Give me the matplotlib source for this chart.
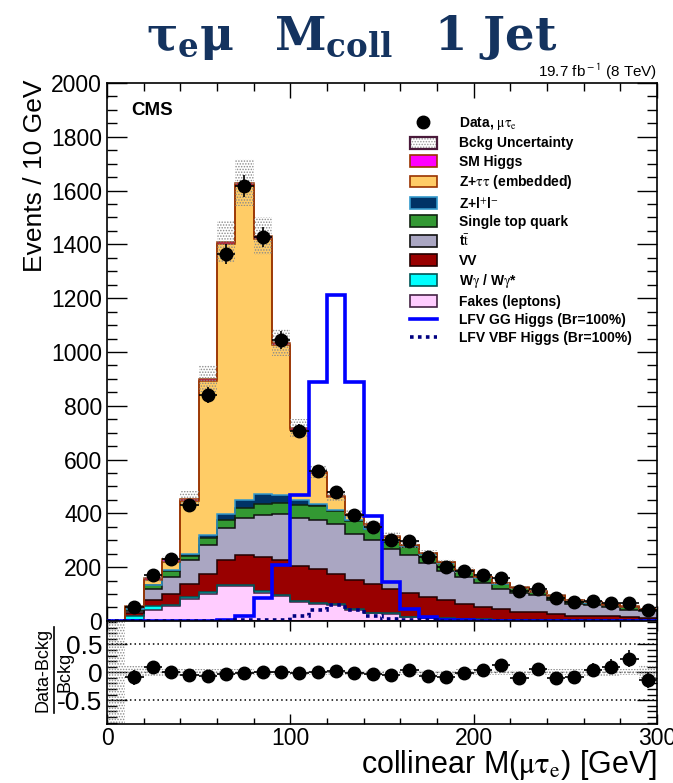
#!/usr/bin/env python
# -*- coding: utf-8 -*-
"""
collinear mass, mu tau_e channel, 1 jet category
stacked backgrounds + LFV higgs signal + data, with (data-bkg)/bkg panel below
"""
import numpy as np
import matplotlib
matplotlib.use('Agg')
import matplotlib.pyplot as plt
from matplotlib.patches import Patch
from matplotlib.lines import Line2D
from matplotlib.ticker import MultipleLocator, FuncFormatter

plt.rcParams['font.family'] = ['Liberation Sans', 'DejaVu Sans']
plt.rcParams['axes.unicode_minus'] = False
plt.rcParams['mathtext.fontset'] = 'stix'
# serif bold set, only used by the title
plt.rcParams['mathtext.rm'] = 'DejaVu Serif:bold'
plt.rcParams['mathtext.it'] = 'DejaVu Serif:bold'
plt.rcParams['mathtext.bf'] = 'DejaVu Serif:bold'
plt.rcParams['hatch.linewidth'] = 0.7

edges = np.arange(0, 310, 10)   # 10 GeV bins, 0-300
centers = edges[:-1] + 5

# background yields per bin
fakes = [0, 4, 39, 55, 83, 101, 128, 128, 104, 92, 70, 64, 61, 42, 29,
         27, 15, 10, 8, 6, 5, 4, 4, 3, 3, 2, 2, 2, 1.5, 1.5]
wgamma = [0.3, 14, 15, 5, 6, 6, 7, 7, 8, 4, 3, 2, 1, 1, 1,
          1, 1, 1, 1, 1, 1, 1, 1, 1, 0.5, 0.5, 0.5, 0.5, 0.5, 0.5]
vv = [0.2, 10, 22, 41, 49, 69, 90, 109, 126, 129, 131, 128, 114, 108, 108,
      92, 88, 78, 67, 57, 45, 40, 30, 29, 23.5, 17.5, 17.5, 14.5, 12, 10]
ttbar = [0, 10, 41, 62, 87, 105, 122, 138, 155, 171, 180, 180, 186, 173, 162,
         149, 140, 126, 109, 99, 90, 75, 69, 62, 52, 44, 38, 34, 28, 24]
single_top = [0, 6, 15, 21, 16, 27, 30, 38, 43, 42, 46, 52, 47, 46, 40,
              26, 31, 32, 30, 22, 19, 18, 18, 12, 13, 11, 9, 8, 9, 6]
zll = [0, 2, 3, 4, 9, 13, 22, 31, 35, 29, 18, 10, 5, 4, 2,
       2, 2, 1, 1, 1, 1, 1, 1, 1, 1, 1, 1, 1, 1, 1]
ztt = [0.2, 6, 16, 31, 195, 572, 1001, 1169, 949, 559, 262, 113, 46, 18, 13,
       15, 4, 3, 2, 2, 1.5, 1.5, 1, 1, 1, 1, 1, 1, 1, 1]
sm_higgs = [0, 3, 7, 10, 10, 7, 10, 10, 10, 9, 8, 6, 5, 5, 5,
            5, 2, 2, 2, 2, 1, 1, 1, 1, 1, 1, 1, 1, 1, 1]
bkg_err = [5, 6, 12, 14, 28, 50, 78, 88, 70, 50, 33, 25, 21, 18, 16,
           15, 14, 12, 11, 10, 8, 7, 6, 6, 5, 4, 4, 4, 3, 6]

# signal (Br=100%)
lfv_gg = [0, 0, 0, 0, 0, 1, 3, 17, 85, 207, 469, 887, 1212, 887, 389,
          143, 44, 14, 4, 2, 1, 1, 0.5, 0.5, 0.5, 0.5, 0.5, 0.5, 0.5, 0.5]
lfv_vbf = [0, 0, 0, 0, 0, 0.5, 1, 2, 3, 5, 18, 39, 58, 42, 18,
           6, 3, 2, 1, 1, 0.5, 0.5, 0.5, 0.5, 0.5, 0.5, 0.5, 0.5, 0.5, 0.5]

data = [np.nan, 50, 172, 230, 432, 840, 1363, 1617, 1427, 1044, 707, 556, 478, 395, 350,
        302, 297, 236, 202, 186, 170, 160, 112, 117, 86, 71, 73, 68, 67, 39]

# (values, fill, line) from bottom to top of the stack
layers = [
    (fakes, '#ffccff', '#442244'),
    (wgamma, '#00ffff', '#005555'),
    (vv, '#990000', '#220000'),
    (ttbar, '#aaa6c2', '#111111'),
    (single_top, '#339933', '#112211'),
    (zll, '#003366', '#3399cc'),
    (ztt, '#ffcc66', '#993300'),
    (sm_higgs, '#ff00ff', '#993300'),
]

fig = plt.figure(figsize=(6.73, 7.83), dpi=100)
ax = fig.add_axes([0.159, 0.207, 0.817, 0.687])
rax = fig.add_axes([0.159, 0.075, 0.817, 0.132])

bottom = np.zeros(len(centers))
for vals, fc, lc in layers:
    top = bottom + np.array(vals)
    ax.stairs(top, edges, baseline=bottom, fill=True, color=fc, zorder=2)
    ax.stairs(top, edges, baseline=None, color=lc, lw=1.1, zorder=2.1)
    bottom = top
total = bottom
err = np.array(bkg_err)

# background uncertainty band
ax.bar(edges[:-1], 2 * err, width=10, bottom=total - err, align='edge',
       facecolor='none', edgecolor='#8a8a8a', hatch='......', linewidth=0, zorder=3)

ax.stairs(lfv_gg, edges, baseline=None, color='#0000ff', lw=2.6, zorder=4)
ax.stairs(lfv_vbf, edges, baseline=None, color='#000080', lw=2.6,
          linestyle=(0, (1, 1.2)), zorder=4)

data = np.array(data)
ax.errorbar(centers, data, yerr=np.sqrt(data), xerr=5, fmt='o', color='black',
            ms=9, lw=1.2, capsize=0, zorder=5)

ax.set_xlim(0, 300)
ax.set_ylim(0, 2000)
ax.yaxis.set_major_locator(MultipleLocator(200))
ax.yaxis.set_minor_locator(MultipleLocator(50))
ax.xaxis.set_major_locator(MultipleLocator(100))
ax.xaxis.set_minor_locator(MultipleLocator(20))
ax.tick_params(which='both', direction='in', top=True, right=True,
               labelbottom=False, labelsize=16.5, width=1)
ax.tick_params(axis='y', which='major', length=14.5)
ax.tick_params(axis='y', which='minor', length=7.5)
ax.tick_params(axis='x', which='major', length=11)
ax.tick_params(axis='x', which='minor', length=6)
for s in ax.spines.values():
    s.set_linewidth(1.2)

# ratio panel
ratio = (data - total) / total
ratio_err = np.sqrt(data) / total
rel = err / total
rax.bar(edges[:-1], 2 * rel, width=10, bottom=-rel, align='edge',
        facecolor='none', edgecolor='#8a8a8a', hatch='......', linewidth=0, zorder=2)
for yv in (0.5, -0.5):
    rax.axhline(yv, color='black', lw=1.1, ls=(0, (1, 2)), zorder=1)
rax.axhline(0, color='#555555', lw=1.0, ls=(0, (1, 2)), zorder=1)
rax.errorbar(centers, ratio, yerr=ratio_err, xerr=5, fmt='o', color='black',
             ms=9, lw=1.2, capsize=0, zorder=5)
rax.set_xlim(0, 300)
rax.set_ylim(-0.93, 0.92)
rax.yaxis.set_major_locator(MultipleLocator(0.5))
rax.yaxis.set_minor_locator(MultipleLocator(0.1))
rax.yaxis.set_major_formatter(FuncFormatter(lambda v, p: '%g' % v))
rax.xaxis.set_major_locator(MultipleLocator(100))
rax.xaxis.set_minor_locator(MultipleLocator(20))
rax.tick_params(which='both', direction='in', top=True, right=True, width=1)
rax.tick_params(axis='y', which='major', length=14.5, labelsize=19)
rax.tick_params(axis='y', which='minor', length=7.5)
rax.tick_params(axis='x', which='major', length=7, labelsize=16.5, pad=2)
rax.tick_params(axis='x', which='minor', length=4)
for s in rax.spines.values():
    s.set_linewidth(1.2)

# legend
unc_handle = (Patch(facecolor='white', edgecolor='#999999', hatch='......', lw=0),
              Patch(facecolor='none', edgecolor='#4a1a3a', lw=1.6))
handles = [Line2D([], [], marker='o', color='black', ls='none', ms=9), unc_handle]
for vals, fc, lc in layers[::-1]:
    handles.append(Patch(facecolor=fc, edgecolor=lc, lw=1.2))
handles += [Line2D([], [], color='#0000ff', lw=2.6),
            Line2D([], [], color='#000080', lw=2.6, ls=(0, (1, 1.2)))]
labels = ['Data, $\\mathrm{\\mu\\tau_{e}}$', 'Bckg Uncertainty', 'SM Higgs',
          'Z+$\\mathrm{\\tau\\tau}$ (embedded)', 'Z+l$^{+}$l$^{-}$', 'Single top quark',
          't$\\bar{\\rm t}$', 'VV', 'W$\\mathrm{\\gamma}$ / W$\\mathrm{\\gamma}$*',
          'Fakes (leptons)', 'LFV GG Higgs (Br=100%)', 'LFV VBF Higgs (Br=100%)']
leg = fig.legend(handles, labels,
                 loc='upper left', bbox_to_anchor=(403 / 673, 1 - 108 / 783),
                 frameon=False, borderpad=0, labelspacing=0.32,
                 handlelength=1.95, handleheight=0.95, handletextpad=1.6,
                 prop={'family': ['Liberation Sans', 'DejaVu Sans'],
                       'weight': 'bold', 'size': 10})

# texts
fig.text(352 / 673, 1 - 50 / 783, r'$\tau_{e}\mu\;\;\;M_{coll}\;\;\;1\ Jet$',
         ha='center', va='baseline', fontsize=33.5, color='#14335f',
         math_fontfamily='custom')
fig.text(657 / 673, 1 - 77 / 783, '19.7 fb$^{\\rm -1}$ (8 TeV)', ha='right',
         va='baseline', fontsize=11, math_fontfamily='stixsans')
fig.text(131 / 673, 1 - 115 / 783, 'CMS', fontsize=13.5, fontweight='bold',
         va='baseline', ha='left')
fig.text(35 / 673, 1 - 80 / 783, 'Events / 10 GeV', rotation=90,
         ha='center', va='top', fontsize=19)
fig.text(657 / 673, 1 - 773 / 783, 'collinear M($\\mathrm{\\mu\\tau_{e}}$) [GeV]',
         ha='right', va='baseline', fontsize=22)

# fraction label of the lower panel
fig.text(43 / 673, 1 - 670 / 783, 'Data-Bckg', rotation=90,
         ha='center', va='center', fontsize=13)
fig.text(65 / 673, 1 - 672 / 783, 'Bckg', rotation=90,
         ha='center', va='center', fontsize=13)
fig.add_artist(Line2D([54 / 673, 54 / 673], [1 - 627 / 783, 1 - 713 / 783],
                      color='black', lw=1.2, transform=fig.transFigure))

fig.savefig('out.png', dpi=100)
